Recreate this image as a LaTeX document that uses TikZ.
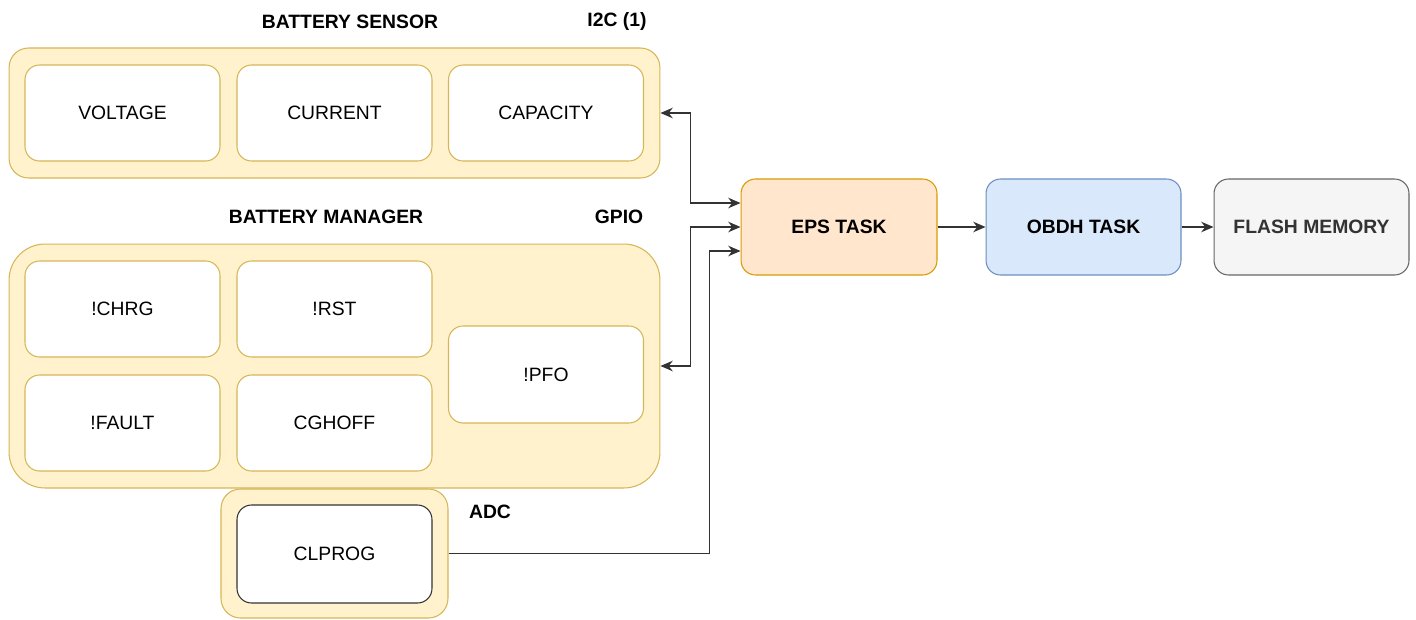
\documentclass[tikz,border=0pt]{standalone}
\usepackage{fontspec}
\setmainfont{Liberation Sans}
\usepackage{tikz}
\usetikzlibrary{arrows.meta}
\definecolor{grpfill}{HTML}{FFF2CC}
\definecolor{grpline}{HTML}{D6B656}
\definecolor{epsfill}{HTML}{FFE6CC}
\definecolor{epsline}{HTML}{D79B00}
\definecolor{obdhfill}{HTML}{DAE8FC}
\definecolor{obdhline}{HTML}{6C8EBF}
\definecolor{memfill}{HTML}{F5F5F5}
\definecolor{memline}{HTML}{666666}
\tikzstyle{block}=[draw, line width=0.6pt, inner sep=0pt, font=\fontsize{11}{13}\selectfont]
\tikzstyle{group}=[block, draw=grpline, fill=grpfill, rounded corners=0.39cm]
\tikzstyle{signal}=[block, draw=grpline, fill=white, minimum width=3.9cm, minimum height=1.92cm, rounded corners=0.29cm]
\tikzstyle{task}=[block, minimum width=3.92cm, minimum height=1.92cm, rounded corners=0.29cm, font=\fontsize{11}{13}\selectfont\bfseries]
\tikzstyle{title}=[inner sep=0pt, font=\fontsize{11}{13}\selectfont\bfseries]
\tikzstyle{link}=[draw=black!80, line width=0.6pt, -{Stealth[length=7pt, width=6pt]}]

\begin{document}
\begin{tikzpicture}[x=0.02cm, y=-0.02cm]
        \useasboundingbox (0,0) rectangle (1416,619);
        % battery sensor (I2C)
        \node[group, minimum width=13.02cm, minimum height=2.6cm] (sensor) at (334.5, 113) {};
        \node[title] (sensorT) at (350, 22) {BATTERY SENSOR};
        \node[title] (i2cT) at (617, 22) {I2C (1)};
        \node[signal] (voltage) at (122.5, 113) {VOLTAGE};
        \node[signal] (current) at (334.5, 113) {CURRENT};
        \node[signal] (capacity) at (546, 113) {CAPACITY};
        % battery manager (GPIO)
        \node[group, minimum width=13.02cm, minimum height=4.88cm, rounded corners=0.72cm] (manager) at (334.5, 366) {};
        \node[title] (managerT) at (326, 217) {BATTERY MANAGER};
        \node[title] (gpioT) at (619, 217) {GPIO};
        \node[signal] (chrg) at (122.5, 309) {!CHRG};
        \node[signal] (rst) at (334.5, 309) {!RST};
        \node[signal] (fault) at (122.5, 423) {!FAULT};
        \node[signal] (cghoff) at (334.5, 423) {CGHOFF};
        \node[signal, minimum height=1.94cm] (pfo) at (546, 374.5) {!PFO};
        % charge current (ADC)
        \node[group, minimum width=4.54cm, minimum height=2.58cm] (adc) at (334.5, 553.5) {};
        \node[title] (adcT) at (490, 512) {ADC};
        \node[signal, draw=black!80, minimum height=1.96cm] (clprog) at (334.5, 554) {CLPROG};
        % tasks
        \node[task, draw=epsline, fill=epsfill] (eps) at (839, 227) {EPS TASK};
        \node[task, draw=obdhline, fill=obdhfill, minimum width=3.9cm] (obdh) at (1083.5, 227) {OBDH TASK};
        \node[task, draw=memline, fill=memfill, text=black!80, minimum width=3.9cm] (flash) at (1311.5, 227) {FLASH MEMORY};
        \draw[link, {Stealth[length=7pt, width=6pt]}-{Stealth[length=7pt, width=6pt]}] (sensor.east) -- ++(30, 0) |- ([yshift=0.48cm]eps.west);
        \draw[link, {Stealth[length=7pt, width=6pt]}-{Stealth[length=7pt, width=6pt]}] (manager.east) -- ++(30, 0) |- (eps.west);
        \draw[link] (adc.east) -- ++(261, 0) |- ([yshift=-0.48cm]eps.west);
        \draw[link] (eps) -- (obdh);
        \draw[link] (obdh) -- (flash);
    \end{tikzpicture}
\end{document}
